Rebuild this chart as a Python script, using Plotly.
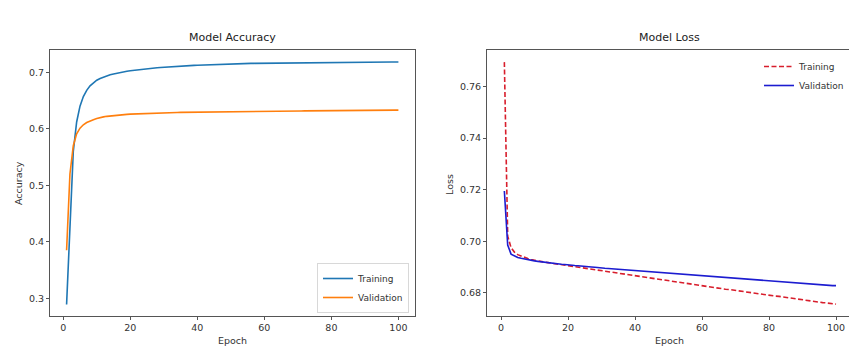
import plotly.graph_objects as go

W, H = 849, 347

epochs = list(range(1, 101))

train_acc = [
    0.289, 0.430, 0.560, 0.612, 0.640, 0.657, 0.668, 0.676, 0.681, 0.686,
    0.6890, 0.6915, 0.6937, 0.6955, 0.6970, 0.6984, 0.6996, 0.7007, 0.7017, 0.7026,
    0.7034, 0.7042, 0.7049, 0.7056, 0.7062, 0.7068, 0.7074, 0.7079, 0.7084, 0.7089,
    0.7093, 0.7097, 0.7101, 0.7105, 0.7109, 0.7112, 0.7115, 0.7118, 0.7121, 0.7124,
    0.7127, 0.7130, 0.7133, 0.7136, 0.7139, 0.7141, 0.7143, 0.7145, 0.7147, 0.7149,
    0.7151, 0.7153, 0.7154, 0.7155, 0.7156, 0.7157, 0.7158, 0.7159, 0.7160, 0.7161,
    0.7162, 0.7163, 0.7164, 0.7165, 0.7165, 0.7166, 0.7167, 0.7168, 0.7168, 0.7169,
    0.7170, 0.7170, 0.7171, 0.7172, 0.7172, 0.7173, 0.7173, 0.7174, 0.7174, 0.7175,
    0.7176, 0.7176, 0.7177, 0.7177, 0.7177, 0.7178, 0.7178, 0.7178, 0.7179, 0.7179,
    0.7179, 0.7180, 0.7180, 0.7180, 0.7181, 0.7181, 0.7181, 0.7182, 0.7182, 0.7182,
]

val_acc = [
    0.385, 0.520, 0.570, 0.591, 0.601, 0.607, 0.611, 0.614, 0.616, 0.618,
    0.6198, 0.6210, 0.6220, 0.6228, 0.6235, 0.6241, 0.6246, 0.6251, 0.6255, 0.6259,
    0.6262, 0.6265, 0.6268, 0.6271, 0.6273, 0.6275, 0.6277, 0.6279, 0.6281, 0.6283,
    0.6284, 0.6286, 0.6287, 0.6289, 0.6290, 0.6291, 0.6292, 0.6293, 0.6294, 0.6295,
    0.6296, 0.6297, 0.6298, 0.6299, 0.6300, 0.6300, 0.6301, 0.6302, 0.6303, 0.6303,
    0.6304, 0.6305, 0.6305, 0.6306, 0.6307, 0.6307, 0.6308, 0.6308, 0.6309, 0.6310,
    0.6310, 0.6311, 0.6311, 0.6312, 0.6312, 0.6313, 0.6313, 0.6314, 0.6314, 0.6315,
    0.6315, 0.6316, 0.6316, 0.6317, 0.6317, 0.6318, 0.6318, 0.6319, 0.6319, 0.6320,
    0.6320, 0.6321, 0.6321, 0.6322, 0.6322, 0.6323, 0.6323, 0.6324, 0.6324, 0.6325,
    0.6325, 0.6326, 0.6326, 0.6327, 0.6327, 0.6328, 0.6328, 0.6329, 0.6329, 0.6330,
]

train_loss = [
    0.7695, 0.7020, 0.6975, 0.6958, 0.6948, 0.6942, 0.6937, 0.6933, 0.6929, 0.6926,
    0.6924, 0.6921, 0.6919, 0.6917, 0.6915, 0.6913, 0.6911, 0.6909, 0.6907, 0.6905,
    0.6903, 0.6901, 0.6899, 0.6897, 0.6895, 0.6893, 0.6891, 0.6889, 0.6887, 0.6885,
    0.6883, 0.6881, 0.6879, 0.6877, 0.6875, 0.6873, 0.6871, 0.6869, 0.6867, 0.6866,
    0.6864, 0.6862, 0.6860, 0.6858, 0.6856, 0.6854, 0.6852, 0.6850, 0.6848, 0.6846,
    0.6844, 0.6842, 0.6840, 0.6838, 0.6836, 0.6834, 0.6832, 0.6831, 0.6829, 0.6827,
    0.6825, 0.6823, 0.6822, 0.6820, 0.6818, 0.6816, 0.6814, 0.6813, 0.6811, 0.6809,
    0.6807, 0.6805, 0.6804, 0.6802, 0.6800, 0.6798, 0.6797, 0.6795, 0.6793, 0.6791,
    0.6789, 0.6787, 0.6786, 0.6784, 0.6782, 0.6780, 0.6778, 0.6777, 0.6775, 0.6773,
    0.6771, 0.6769, 0.6768, 0.6766, 0.6764, 0.6762, 0.6761, 0.6759, 0.6758, 0.6756,
]

val_loss = [
    0.7195, 0.6985, 0.6950, 0.6942, 0.6937, 0.6934, 0.6931, 0.6928, 0.6926, 0.6924,
    0.6922, 0.6920, 0.6919, 0.6917, 0.6916, 0.6914, 0.6913, 0.6911, 0.6910, 0.6908,
    0.6907, 0.6906, 0.6905, 0.6903, 0.6902, 0.6901, 0.6900, 0.6899, 0.6897, 0.6896,
    0.6895, 0.6894, 0.6893, 0.6892, 0.6891, 0.6890, 0.6889, 0.6888, 0.6887, 0.6885,
    0.6884, 0.6883, 0.6882, 0.6881, 0.6880, 0.6879, 0.6878, 0.6877, 0.6876, 0.6875,
    0.6874, 0.6873, 0.6872, 0.6871, 0.6870, 0.6869, 0.6868, 0.6867, 0.6866, 0.6865,
    0.6864, 0.6863, 0.6862, 0.6861, 0.6860, 0.6859, 0.6858, 0.6857, 0.6856, 0.6855,
    0.6854, 0.6853, 0.6852, 0.6851, 0.6850, 0.6849, 0.6849, 0.6848, 0.6847, 0.6846,
    0.6845, 0.6844, 0.6843, 0.6842, 0.6841, 0.6840, 0.6839, 0.6838, 0.6837, 0.6836,
    0.6835, 0.6834, 0.6833, 0.6832, 0.6831, 0.6830, 0.6829, 0.6829, 0.6828, 0.6828,
]

x_ticks = [0, 20, 40, 60, 80, 100]
acc_ticks = [0.3, 0.4, 0.5, 0.6, 0.7]
acc_tick_labels = ["0.3", "0.4", "0.5", "0.6", "0.7"]
loss_ticks = [0.68, 0.70, 0.72, 0.74, 0.76]
loss_tick_labels = ["0.68", "0.70", "0.72", "0.74", "0.76"]

FONT = "DejaVu Sans"
TXT = "#333333"
FRAME = "#555555"

def px_x(p):
    return p / W

def px_y(p):
    return 1 - p / H

fig = go.Figure()

fig.add_trace(go.Scatter(x=epochs, y=train_acc, mode="lines", name="Training",
                         line=dict(color="#1f77b4", width=1.6),
                         xaxis="x", yaxis="y", legend="legend"))
fig.add_trace(go.Scatter(x=epochs, y=val_acc, mode="lines", name="Validation",
                         line=dict(color="#ff7f0e", width=1.6),
                         xaxis="x", yaxis="y", legend="legend"))
fig.add_trace(go.Scatter(x=epochs, y=train_loss, mode="lines", name="Training",
                         line=dict(color="#d81e2c", width=1.6, dash="5px,2.5px"),
                         xaxis="x2", yaxis="y2", legend="legend2"))
fig.add_trace(go.Scatter(x=epochs, y=val_loss, mode="lines", name="Validation",
                         line=dict(color="#1c1cd0", width=1.6),
                         xaxis="x2", yaxis="y2", legend="legend2"))

ax_common = dict(showgrid=False, zeroline=False, ticks="outside", ticklen=3,
                 tickwidth=1, tickcolor=FRAME, linecolor=FRAME, linewidth=1,
                 tickfont=dict(family=FONT, size=9.5, color=TXT), showline=True)

ydom = [px_y(316), px_y(50)]

fig.update_layout(
    width=W, height=H,
    margin=dict(l=0, r=0, t=0, b=0),
    paper_bgcolor="white", plot_bgcolor="white",
    font=dict(family=FONT, color=TXT),
    xaxis=dict(domain=[px_x(50), px_x(415)], range=[-3.95, 104.95],
               tickvals=x_ticks, ticktext=[str(v) for v in x_ticks],
               mirror=True, anchor="y", **ax_common),
    yaxis=dict(domain=ydom, range=[0.2686, 0.7394],
               tickvals=acc_ticks, ticktext=acc_tick_labels,
               mirror=True, anchor="x", **ax_common),
    xaxis2=dict(domain=[px_x(487), 1.0], range=[-4.18, 103.88],
                tickvals=x_ticks, ticktext=[str(v) for v in x_ticks],
                mirror=True, anchor="y2", **ax_common),
    yaxis2=dict(domain=ydom, range=[0.6710, 0.7742],
                tickvals=loss_ticks, ticktext=loss_tick_labels,
                mirror=False, anchor="x2", **ax_common),
    legend=dict(xref="paper", yref="paper", x=px_x(409), y=px_y(313),
                xanchor="right", yanchor="bottom",
                bgcolor="rgba(255,255,255,0.9)", bordercolor="#d8d8d8", borderwidth=1,
                font=dict(family=FONT, size=9, color=TXT), itemwidth=30,
                tracegroupgap=0),
    legend2=dict(xref="paper", yref="paper", x=1.0, y=px_y(52),
                 xanchor="right", yanchor="top",
                 bgcolor="rgba(255,255,255,0)", borderwidth=0,
                 font=dict(family=FONT, size=9, color=TXT), itemwidth=30,
                 tracegroupgap=0),
    showlegend=True,
)

annotations = [
    dict(text="Model Accuracy", x=px_x(232.5), y=px_y(46), xanchor="center", yanchor="bottom",
         font=dict(family=FONT, size=11, color="#222222")),
    dict(text="Model Loss", x=px_x(669), y=px_y(46), xanchor="center", yanchor="bottom",
         font=dict(family=FONT, size=11, color="#222222")),
    dict(text="Epoch", x=px_x(232.5), y=px_y(340), xanchor="center", yanchor="middle",
         font=dict(family=FONT, size=9.5, color=TXT)),
    dict(text="Epoch", x=px_x(669), y=px_y(340), xanchor="center", yanchor="middle",
         font=dict(family=FONT, size=9.5, color=TXT)),
    dict(text="Accuracy", x=px_x(18), y=px_y(183), xanchor="center", yanchor="middle",
         textangle=-90, font=dict(family=FONT, size=9.5, color=TXT)),
    dict(text="Loss", x=px_x(449), y=px_y(185), xanchor="center", yanchor="middle",
         textangle=-90, font=dict(family=FONT, size=9.5, color=TXT)),
]
for a in annotations:
    a.update(xref="paper", yref="paper", showarrow=False)
fig.update_layout(annotations=annotations)

fig.write_html("out.html")
